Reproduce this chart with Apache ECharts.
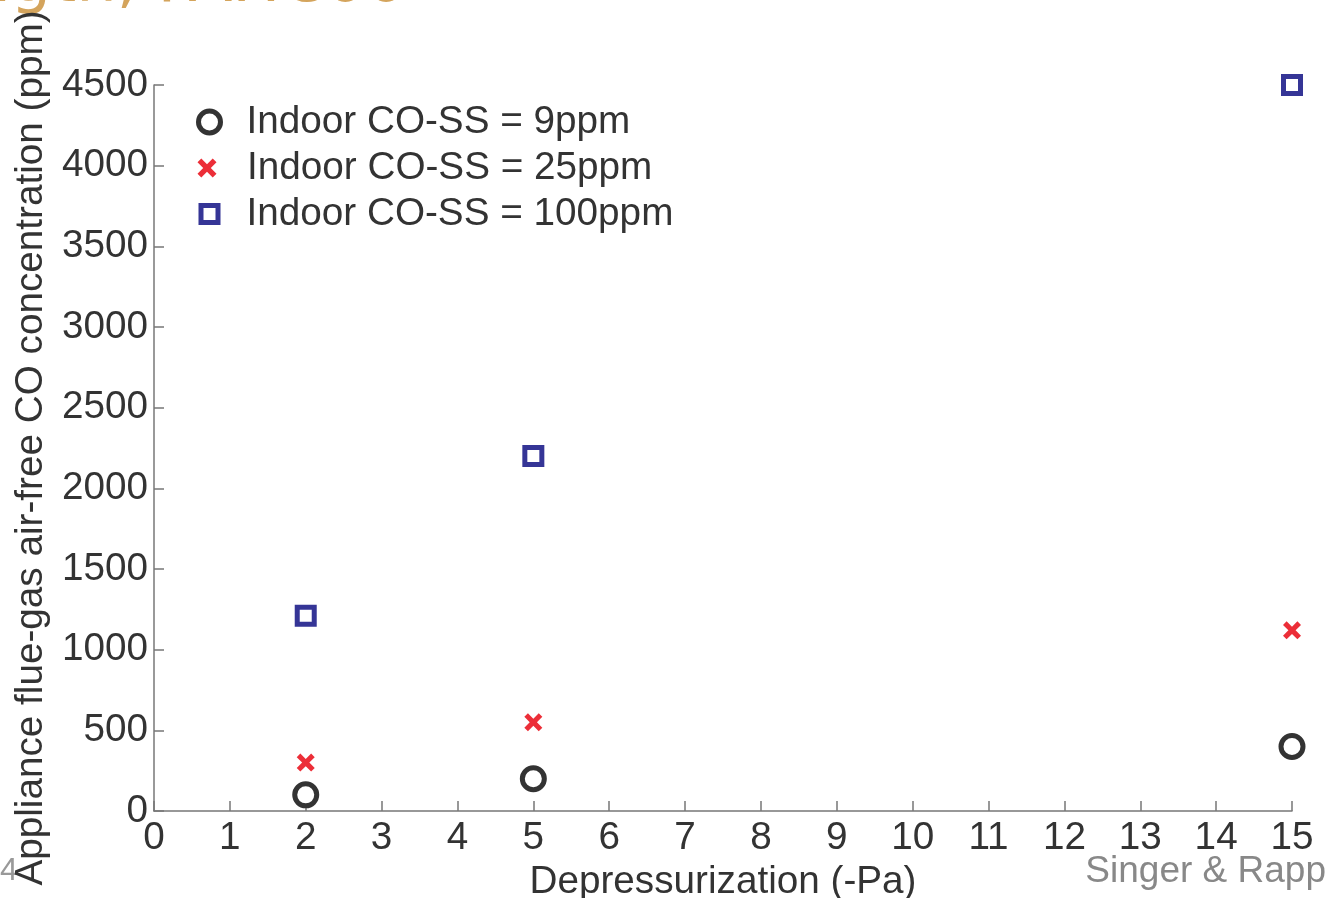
<!DOCTYPE html>
<html>
<head>
<meta charset="utf-8">
<style>
html,body{margin:0;padding:0;background:#fff;}
#chart{width:1330px;height:898px;}
</style>
<script src="https://cdn.jsdelivr.net/npm/echarts@6/dist/echarts.min.js"></script>
</head>
<body>
<div id="chart"></div>
<script>
// Data
const depressurization = [2, 5, 15];
const co9ppm = [100, 200, 400];
const co25ppm = [300, 550, 1120];
const co100ppm = [1210, 2200, 4500];
const seriesNames = ['Indoor CO-SS = 9ppm', 'Indoor CO-SS = 25ppm', 'Indoor CO-SS = 100ppm'];
const xTicks = [0,1,2,3,4,5,6,7,8,9,10,11,12,13,14,15];
const yTicks = [0,500,1000,1500,2000,2500,3000,3500,4000,4500];

const FONT = 'Liberation Sans, Arial, Helvetica, sans-serif';
const FS = 38.7;
const crossPath = 'path://M2,0 L5,3 L8,0 L10,2 L7,5 L10,8 L8,10 L5,7 L2,10 L0,8 L3,5 L0,2 Z';

function pts(ys){ return depressurization.map((x,i)=>[x, ys[i]]); }

function legendFor(name, rowCenter, w, border, textStart) {
  const left = 207 - w / 2;
  const natural = left + w + 5;
  return {
    orient: 'vertical', left: left, top: rowCenter - 21, padding: 0,
    itemWidth: w, itemHeight: w,
    itemStyle: border ? {borderWidth: border} : {},
    textStyle: {fontFamily: FONT, fontSize: FS, color: '#333', lineHeight: 42,
      padding: [0, 0, 0, textStart - natural]},
    data: [name]
  };
}

const chart = echarts.init(document.getElementById('chart'), null, {renderer:'canvas'});
chart.setOption({
  animation: false,
  backgroundColor: '#fff',
  textStyle: {fontFamily: FONT},
  grid: {left: 154, right: 38, top: 85, bottom: 87, containLabel: false, outerBoundsMode: 'none'},
  legend: [
    legendFor(seriesNames[0], 122, 22, 5, 244),
    legendFor(seriesNames[1], 168, 19, 0, 247),
    legendFor(seriesNames[2], 214, 17, 5, 244)
  ],
  xAxis: {
    type: 'value', min: 0, max: 15, interval: 1,
    name: 'Depressurization (-Pa)', nameLocation: 'middle', nameGap: 50,
    nameTextStyle: {fontFamily: FONT, fontSize: FS, color: '#333'},
    axisLine: {show: true, onZero: false, lineStyle: {color: '#777', width: 1.5}},
    axisTick: {show: true, inside: true, length: 10, lineStyle: {color: '#777', width: 1.5}},
    axisLabel: {fontFamily: FONT, fontSize: FS, color: '#333', margin: 8,
      formatter: v => xTicks.includes(v) ? String(v) : ''},
    splitLine: {show: false}
  },
  yAxis: {
    type: 'value', min: 0, max: 4500, interval: 500,
    name: 'Appliance flue-gas air-free CO concentration (ppm)', nameLocation: 'middle', nameGap: 99,
    nameTextStyle: {fontFamily: FONT, fontSize: FS, color: '#333'},
    axisLine: {show: true, onZero: false, lineStyle: {color: '#777', width: 1.5}},
    axisTick: {show: true, inside: true, length: 10, lineStyle: {color: '#777', width: 1.5}},
    axisLabel: {fontFamily: FONT, fontSize: FS, color: '#333', margin: 6,
      formatter: v => yTicks.includes(v) ? String(v) : ''},
    splitLine: {show: false}
  },
  series: [
    {name: seriesNames[0], type: 'scatter', data: pts(co9ppm), symbol: 'circle', symbolSize: 22,
      itemStyle: {color: '#fff', borderColor: '#333', borderWidth: 5, opacity: 1}},
    {name: seriesNames[1], type: 'scatter', data: pts(co25ppm), symbol: crossPath, symbolSize: 18,
      itemStyle: {color: '#EC2E38', opacity: 1}},
    {name: seriesNames[2], type: 'scatter', data: pts(co100ppm), symbol: 'rect', symbolSize: 17,
      itemStyle: {color: '#fff', borderColor: '#353596', borderWidth: 5, opacity: 1}}
  ],
  graphic: [
    {type: 'text', left: -30, top: -48, silent: true,
      style: {text: 'ngth, FAHC00', fontFamily: 'DejaVu Sans, sans-serif', fontSize: 64, fill: '#D4A45C'}},
    {type: 'text', left: 0, top: 855, silent: true,
      style: {text: '4', fontFamily: FONT, fontSize: 32, fill: '#999'}},
    {type: 'text', right: 4, top: 853, silent: true,
      style: {text: 'Singer & Rapp', fontFamily: FONT, fontSize: 37, fill: '#888'}}
  ]
});
</script>
</body>
</html>
